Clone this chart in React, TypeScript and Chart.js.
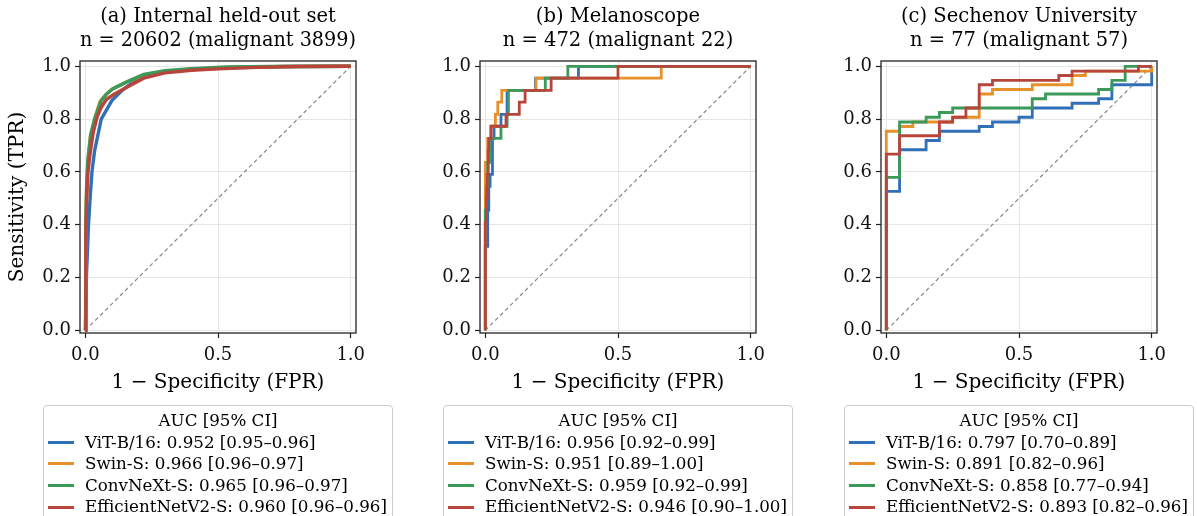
import React, { useEffect, useRef } from "react";
import { Chart, registerables } from "chart.js";

Chart.register(...registerables);

const FONT = "'DejaVu Serif', serif";
const MODELS = ["ViT-B/16", "Swin-S", "ConvNeXt-S", "EfficientNetV2-S"];
const COLORS = ["#3070b8", "#e8902a", "#3b9a5a", "#b8453c"];
const PANEL_TITLES = ["(a) Internal held-out set", "(b) Melanoscope", "(c) Sechenov University"];
const PANEL_SUBTITLES = ["n = 20602 (malignant 3899)", "n = 472 (malignant 22)", "n = 77 (malignant 57)"];
const X_TICKS = [0, 0.5, 1];
const Y_TICKS = [0, 0.2, 0.4, 0.6, 0.8, 1];
const X_LABEL = "1 \u2212 Specificity (FPR)";
const Y_LABEL = "Sensitivity (TPR)";
const LEGEND_TITLE = "AUC [95% CI]";

// AUC labels per panel
const AUC_A = ["0.952 [0.95\u20130.96]", "0.966 [0.96\u20130.97]", "0.965 [0.96\u20130.97]", "0.960 [0.96\u20130.96]"];
const AUC_B = ["0.956 [0.92\u20130.99]", "0.951 [0.89\u20131.00]", "0.959 [0.92\u20130.99]", "0.946 [0.90\u20131.00]"];
const AUC_C = ["0.797 [0.70\u20130.89]", "0.891 [0.82\u20130.96]", "0.858 [0.77\u20130.94]", "0.893 [0.82\u20130.96]"];

// (a) Internal held-out set (smooth curves)
const A_VIT_FPR = [0, 0.004, 0.012, 0.018, 0.025, 0.035, 0.06, 0.1, 0.14, 0.18, 0.22, 0.3, 0.4, 0.55, 0.75, 1];
const A_VIT_TPR = [0, 0.2, 0.4, 0.5, 0.6, 0.68, 0.8, 0.87, 0.91, 0.94, 0.962, 0.978, 0.988, 0.995, 0.999, 1];
const A_SWIN_FPR = [0, 0.002, 0.005, 0.01, 0.02, 0.035, 0.055, 0.075, 0.1, 0.15, 0.22, 0.3, 0.4, 0.55, 0.75, 1];
const A_SWIN_TPR = [0, 0.38, 0.54, 0.64, 0.74, 0.8, 0.865, 0.89, 0.912, 0.938, 0.966, 0.98, 0.99, 0.996, 0.999, 1];
const A_CONV_FPR = [0, 0.002, 0.005, 0.01, 0.02, 0.035, 0.06, 0.08, 0.104, 0.155, 0.22, 0.3, 0.4, 0.53, 0.7, 1];
const A_CONV_TPR = [0, 0.4, 0.55, 0.65, 0.74, 0.8, 0.87, 0.895, 0.915, 0.94, 0.969, 0.983, 0.991, 0.997, 0.999, 1];
const A_EFF_FPR = [0, 0.002, 0.005, 0.01, 0.018, 0.03, 0.045, 0.06, 0.08, 0.11, 0.155, 0.22, 0.3, 0.4, 0.5, 0.65, 0.8, 1];
const A_EFF_TPR = [0, 0.35, 0.5, 0.6, 0.67, 0.75, 0.81, 0.845, 0.875, 0.895, 0.92, 0.955, 0.975, 0.985, 0.99, 0.996, 0.999, 1];

// (b) Melanoscope (staircase corners)
const B_VIT_FPR = [0, 0, 0.009, 0.013, 0.018, 0.027, 0.033, 0.059, 0.082, 0.189, 0.351, 1];
const B_VIT_TPR = [0, 0.318, 0.455, 0.545, 0.591, 0.727, 0.773, 0.818, 0.909, 0.955, 1, 1];
const B_SWIN_FPR = [0, 0, 0.009, 0.02, 0.038, 0.047, 0.062, 0.191, 0.663, 1];
const B_SWIN_TPR = [0, 0.636, 0.727, 0.773, 0.818, 0.864, 0.909, 0.955, 1, 1];
const B_CONV_FPR = [0, 0, 0.004, 0.009, 0.016, 0.059, 0.082, 0.087, 0.226, 0.311, 1];
const B_CONV_TPR = [0, 0.455, 0.545, 0.636, 0.727, 0.773, 0.818, 0.909, 0.955, 1, 1];
const B_EFF_FPR = [0, 0, 0.004, 0.007, 0.011, 0.013, 0.022, 0.078, 0.128, 0.15, 0.248, 0.5, 1];
const B_EFF_TPR = [0, 0.409, 0.5, 0.591, 0.682, 0.727, 0.773, 0.818, 0.864, 0.909, 0.955, 1, 1];

// (c) Sechenov University (staircase corners)
const C_VIT_FPR = [0, 0, 0.05, 0.15, 0.2, 0.35, 0.4, 0.5, 0.55, 0.7, 0.8, 0.85, 1];
const C_VIT_TPR = [0, 0.526, 0.684, 0.719, 0.754, 0.772, 0.789, 0.807, 0.842, 0.86, 0.877, 0.93, 1];
const C_SWIN_FPR = [0, 0, 0.05, 0.1, 0.25, 0.35, 0.4, 0.55, 0.7, 0.75, 1];
const C_SWIN_TPR = [0, 0.754, 0.772, 0.789, 0.807, 0.895, 0.912, 0.93, 0.965, 0.982, 1];
const C_CONV_FPR = [0, 0, 0.05, 0.15, 0.2, 0.25, 0.55, 0.6, 0.8, 0.85, 0.9, 1];
const C_CONV_TPR = [0, 0.579, 0.789, 0.807, 0.825, 0.842, 0.877, 0.895, 0.912, 0.947, 1, 1];
const C_EFF_FPR = [0, 0, 0.05, 0.2, 0.25, 0.3, 0.35, 0.4, 0.65, 0.7, 0.95, 1];
const C_EFF_TPR = [0, 0.667, 0.737, 0.789, 0.807, 0.842, 0.93, 0.947, 0.965, 0.982, 1, 1];

const PANELS = [
  { fpr: [A_VIT_FPR, A_SWIN_FPR, A_CONV_FPR, A_EFF_FPR], tpr: [A_VIT_TPR, A_SWIN_TPR, A_CONV_TPR, A_EFF_TPR], auc: AUC_A, stepped: false, lw: 3.4 },
  { fpr: [B_VIT_FPR, B_SWIN_FPR, B_CONV_FPR, B_EFF_FPR], tpr: [B_VIT_TPR, B_SWIN_TPR, B_CONV_TPR, B_EFF_TPR], auc: AUC_B, stepped: true, lw: 2.8 },
  { fpr: [C_VIT_FPR, C_SWIN_FPR, C_CONV_FPR, C_EFF_FPR], tpr: [C_VIT_TPR, C_SWIN_TPR, C_CONV_TPR, C_EFF_TPR], auc: AUC_C, stepped: true, lw: 2.8 },
];

const PANEL_LEFT = [0, 400, 801];
const CANVAS_W = 396;
const CANVAS_H = 516;

const framePlugin = {
  id: "frame",
  afterDraw(chart: any) {
    const { ctx, chartArea } = chart;
    ctx.save();
    ctx.strokeStyle = "#222";
    ctx.lineWidth = 1.3;
    ctx.strokeRect(chartArea.left, chartArea.top, chartArea.right - chartArea.left, chartArea.bottom - chartArea.top);
    ctx.restore();
  },
};

function Panel({ idx }: { idx: number }) {
  const ref = useRef<HTMLCanvasElement | null>(null);
  useEffect(() => {
    const p = PANELS[idx];
    const datasets: any[] = [
      {
        data: [{ x: 0, y: 0 }, { x: 1, y: 1 }],
        borderColor: "#888888",
        borderWidth: 1.2,
        borderDash: [4, 3],
        pointRadius: 0,
        showLine: true,
        order: 10,
      },
    ];
    MODELS.forEach((m, i) => {
      datasets.push({
        label: m,
        data: p.fpr[i].map((x, j) => ({ x, y: p.tpr[i][j] })),
        borderColor: COLORS[i],
        backgroundColor: COLORS[i],
        borderWidth: p.lw,
        pointRadius: 0,
        showLine: true,
        stepped: p.stepped ? "before" : false,
        tension: 0,
        order: 3 - i,
      });
    });
    const tickFont = { family: FONT, size: 18 };
    const chart = new Chart(ref.current as HTMLCanvasElement, {
      type: "scatter",
      data: { datasets },
      options: {
        animation: false,
        responsive: false,
        events: [],
        layout: { padding: { left: 0, right: CANVAS_W - 356, top: 0, bottom: 0 } },
        plugins: {
          legend: { display: false },
          tooltip: { enabled: false },
          title: {
            display: true,
            text: [PANEL_TITLES[idx], PANEL_SUBTITLES[idx]],
            fullSize: false,
            color: "#000",
            font: { family: FONT, size: 19.5, weight: "normal", lineHeight: 24 / 19.5 },
            padding: { top: 5, bottom: 8 },
          },
        },
        scales: {
          x: {
            type: "linear",
            min: -0.02,
            max: 1.02,
            afterBuildTicks: (s: any) => {
              s.ticks = X_TICKS.map((v) => ({ value: v }));
            },
            afterFit: (s: any) => {
              s.height = 183;
            },
            ticks: {
              callback: (v: any) => Number(v).toFixed(1),
              font: tickFont,
              color: "#111",
              padding: 7,
              maxRotation: 0,
            },
            grid: { color: "#e6e6e6", lineWidth: 1, tickColor: "#222", tickLength: 5, tickWidth: 1.2 },
            border: { display: false },
            title: {
              display: true,
              text: X_LABEL,
              color: "#000",
              font: { family: FONT, size: 20, lineHeight: 1.2 },
              padding: { top: 0, bottom: 121 },
            },
          },
          y: {
            type: "linear",
            min: -0.01,
            max: 1.02,
            afterBuildTicks: (s: any) => {
              s.ticks = Y_TICKS.map((v) => ({ value: v }));
            },
            afterFit: (s: any) => {
              s.width = 80;
            },
            ticks: {
              callback: (v: any) => Number(v).toFixed(1),
              font: tickFont,
              color: "#111",
              padding: 4,
            },
            grid: { color: "#e6e6e6", lineWidth: 1, tickColor: "#222", tickLength: 5, tickWidth: 1.2 },
            border: { display: false },
            title: {
              display: idx === 0,
              text: Y_LABEL,
              color: "#000",
              font: { family: FONT, size: 20, lineHeight: 1.2 },
              padding: { top: 6, bottom: 0 },
            },
          },
        },
      } as any,
      plugins: [framePlugin],
    });
    return () => chart.destroy();
  }, [idx]);

  const p = PANELS[idx];
  return (
    <div style={{ position: "absolute", left: PANEL_LEFT[idx], top: 0, width: CANVAS_W, height: CANVAS_H }}>
      <canvas ref={ref} width={CANVAS_W} height={CANVAS_H} style={{ width: CANVAS_W, height: CANVAS_H, display: "block" }} />
      <div
        style={{
          position: "absolute",
          left: 43,
          top: 405,
          width: 350,
          boxSizing: "border-box",
          border: "1px solid #cccccc",
          borderRadius: 4,
          background: "rgba(255,255,255,0.9)",
          padding: "4px 4px 6px 4px",
          fontFamily: FONT,
          fontSize: 16.7,
          lineHeight: "21.6px",
          color: "#000",
          whiteSpace: "nowrap",
        }}
      >
        <div style={{ textAlign: "center" }}>{LEGEND_TITLE}</div>
        {MODELS.map((m, i) => (
          <div key={m} style={{ display: "flex", alignItems: "center" }}>
            <span style={{ display: "inline-block", width: 26, height: 3, background: COLORS[i], marginRight: 11, flex: "none" }} />
            <span>{m + ": " + p.auc[i]}</span>
          </div>
        ))}
      </div>
    </div>
  );
}

export default function App() {
  return (
    <div
      style={{
        position: "fixed",
        left: 0,
        top: 0,
        width: 1197,
        height: 516,
        overflow: "hidden",
        background: "#ffffff",
      }}
    >
      {PANELS.map((_, i) => (
        <Panel key={i} idx={i} />
      ))}
    </div>
  );
}
